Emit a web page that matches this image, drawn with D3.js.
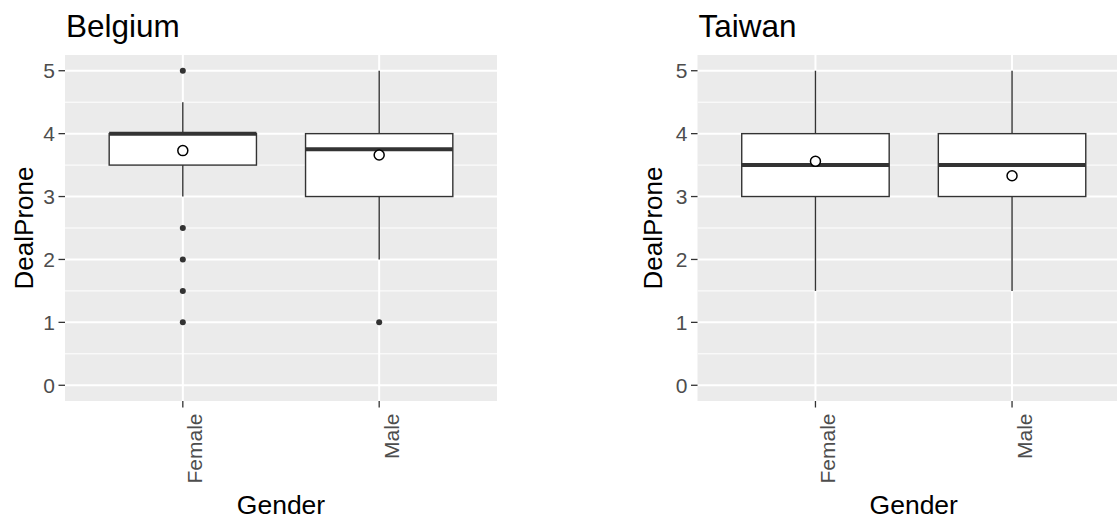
<!DOCTYPE html>
<html>
<head>
<meta charset="utf-8">
<script src="https://cdn.jsdelivr.net/npm/d3@7"></script>
<style>
  html, body { margin: 0; padding: 0; background: #ffffff; }
  svg { display: block; font-family: "Liberation Sans", Arial, sans-serif; }
</style>
</head>
<body>
<svg id="chart" width="1117" height="519"></svg>
<script>
// Box-plot summaries of DealProne by gender, one panel per country
const countries = ["Belgium", "Taiwan"];
const genders = ["Female", "Male"];
const yTicks = [0, 1, 2, 3, 4, 5];

// [whiskerLow, Q1, median, Q3, whiskerHigh] per gender
const belgiumStats = [[3.0, 3.5, 4.0, 4.0, 4.5], [2.0, 3.0, 3.75, 4.0, 5.0]];
const taiwanStats = [[1.5, 3.0, 3.5, 4.0, 5.0], [1.5, 3.0, 3.5, 4.0, 5.0]];
const belgiumMeans = [3.73, 3.66];
const taiwanMeans = [3.56, 3.33];
const belgiumOutliers = [[5, 2.5, 2, 1.5, 1], [1]];
const taiwanOutliers = [[], []];

const panels = [
  { title: countries[0], stats: belgiumStats, means: belgiumMeans, outliers: belgiumOutliers,
    left: 65, right: 497, yTitleX: 33 },
  { title: countries[1], stats: taiwanStats, means: taiwanMeans, outliers: taiwanOutliers,
    left: 697.5, right: 1130, yTitleX: 662 }
];

const svg = d3.select("#chart");
const panelTop = 55, panelBottom = 401;

panels.forEach((p, pi) => {
  const g = svg.append("g");
  const clipId = "clip" + pi;
  svg.append("clipPath").attr("id", clipId)
    .append("rect").attr("x", p.left).attr("y", panelTop)
    .attr("width", p.right - p.left).attr("height", panelBottom - panelTop);

  const y = d3.scaleLinear().domain([-0.25, 5.25]).range([panelBottom, panelTop]);
  // discrete axis with 0.6 units of padding on each side
  const xc = d3.scaleLinear().domain([0.4, genders.length + 0.6]).range([p.left, p.right]);
  const unit = xc(2) - xc(1);
  const boxW = unit * 0.75;

  // panel background
  g.append("rect").attr("x", p.left).attr("y", panelTop)
    .attr("width", p.right - p.left).attr("height", panelBottom - panelTop)
    .attr("fill", "#EBEBEB");

  const grid = g.append("g").attr("clip-path", `url(#${clipId})`);
  // minor horizontal grid
  d3.range(-0.5, 5.5, 1).forEach(v => {
    if (v < -0.25) return;
    grid.append("line").attr("x1", p.left).attr("x2", p.right)
      .attr("y1", y(v)).attr("y2", y(v))
      .attr("stroke", "#ffffff").attr("stroke-width", 1);
  });
  // major grid
  yTicks.forEach(v => {
    grid.append("line").attr("x1", p.left).attr("x2", p.right)
      .attr("y1", y(v)).attr("y2", y(v))
      .attr("stroke", "#ffffff").attr("stroke-width", 2);
  });
  genders.forEach((gd, i) => {
    grid.append("line").attr("x1", xc(i + 1)).attr("x2", xc(i + 1))
      .attr("y1", panelTop).attr("y2", panelBottom)
      .attr("stroke", "#ffffff").attr("stroke-width", 2);
  });

  const marks = g.append("g").attr("clip-path", `url(#${clipId})`);
  genders.forEach((gd, i) => {
    const s = p.stats[i];
    const cx = xc(i + 1);
    // whiskers
    marks.append("line").attr("x1", cx).attr("x2", cx)
      .attr("y1", y(s[3])).attr("y2", y(s[4]))
      .attr("stroke", "#333333").attr("stroke-width", 1.4);
    marks.append("line").attr("x1", cx).attr("x2", cx)
      .attr("y1", y(s[1])).attr("y2", y(s[0]))
      .attr("stroke", "#333333").attr("stroke-width", 1.4);
    // box
    marks.append("rect").attr("x", cx - boxW / 2).attr("y", y(s[3]))
      .attr("width", boxW).attr("height", y(s[1]) - y(s[3]))
      .attr("fill", "#ffffff").attr("stroke", "#333333").attr("stroke-width", 1.4);
    // median
    marks.append("line").attr("x1", cx - boxW / 2).attr("x2", cx + boxW / 2)
      .attr("y1", y(s[2])).attr("y2", y(s[2]))
      .attr("stroke", "#333333").attr("stroke-width", 4);
    // outliers
    p.outliers[i].forEach(v => {
      marks.append("circle").attr("cx", cx).attr("cy", y(v)).attr("r", 3)
        .attr("fill", "#333333");
    });
    // mean
    marks.append("circle").attr("cx", cx).attr("cy", y(p.means[i])).attr("r", 5)
      .attr("fill", "#ffffff").attr("stroke", "#000000").attr("stroke-width", 1.5);
  });

  // y axis ticks and labels
  yTicks.forEach(v => {
    g.append("line").attr("x1", p.left - 6.5).attr("x2", p.left)
      .attr("y1", y(v)).attr("y2", y(v))
      .attr("stroke", "#333333").attr("stroke-width", 1.3);
    g.append("text").attr("x", p.left - 10).attr("y", y(v))
      .attr("dy", "0.36em").attr("text-anchor", "end")
      .attr("font-size", 21).attr("fill", "#4D4D4D").text(v);
  });

  // x axis ticks and rotated labels
  genders.forEach((gd, i) => {
    const cx = xc(i + 1);
    g.append("line").attr("x1", cx).attr("x2", cx)
      .attr("y1", panelBottom).attr("y2", panelBottom + 6.5)
      .attr("stroke", "#333333").attr("stroke-width", 1.3);
    g.append("text")
      .attr("transform", `translate(${cx + 19.5},${panelBottom + 12.5}) rotate(-90)`)
      .attr("text-anchor", "end").attr("font-size", 21).attr("fill", "#4D4D4D")
      .text(gd);
  });

  // axis titles
  g.append("text").attr("x", (p.left + p.right) / 2)
    .attr("y", 514).attr("text-anchor", "middle")
    .attr("font-size", 26.5).attr("fill", "#000000").text("Gender");
  g.append("text")
    .attr("transform", `translate(${p.yTitleX},${(panelTop + panelBottom) / 2}) rotate(-90)`)
    .attr("text-anchor", "middle").attr("font-size", 26).attr("fill", "#000000")
    .text("DealProne");

  // panel title
  g.append("text").attr("x", p.left + 1).attr("y", 37)
    .attr("font-size", 31.5).attr("fill", "#000000").text(p.title);
});
</script>
</body>
</html>
